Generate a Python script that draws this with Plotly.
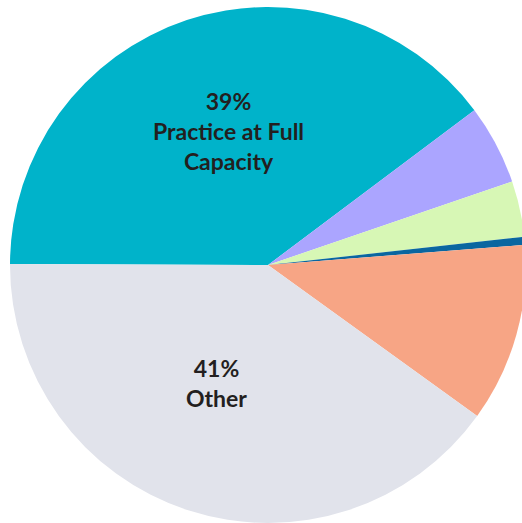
import plotly.graph_objects as go

labels = ["Practice at Full Capacity", "Segment B", "Segment C", "Segment D", "Segment E", "Other"]
values = [39.7, 5.0, 3.5, 0.5, 11.2, 40.1]
label_text = ["39%<br>Practice at Full<br>Capacity", "41%<br>Other"]
label_x = [0.4225, 0.401]
label_y = [0.7597, 0.2713]
colors = ["#00B3CA", "#ABA5FF", "#D7F7B5", "#0A66A0", "#F7A585", "#E1E3EB"]

fig = go.Figure(go.Pie(
    labels=labels,
    values=values,
    textinfo="none",
    sort=False,
    direction="clockwise",
    rotation=-89.8,
    marker=dict(colors=colors, line=dict(width=0)),
    hoverinfo="label+percent",
))

for t, x, y in zip(label_text, label_x, label_y):
    fig.add_annotation(
        text=t, x=x, y=y, xref="paper", yref="paper",
        xanchor="center", yanchor="middle", showarrow=False,
        font=dict(family="Lato", size=23, color="#231F20", weight="bold"),
    )

fig.update_layout(
    width=526, height=523,
    margin=dict(l=10, r=0, t=7, b=0),
    showlegend=False,
    paper_bgcolor="white",
    plot_bgcolor="white",
)

fig.write_html("out.html")
